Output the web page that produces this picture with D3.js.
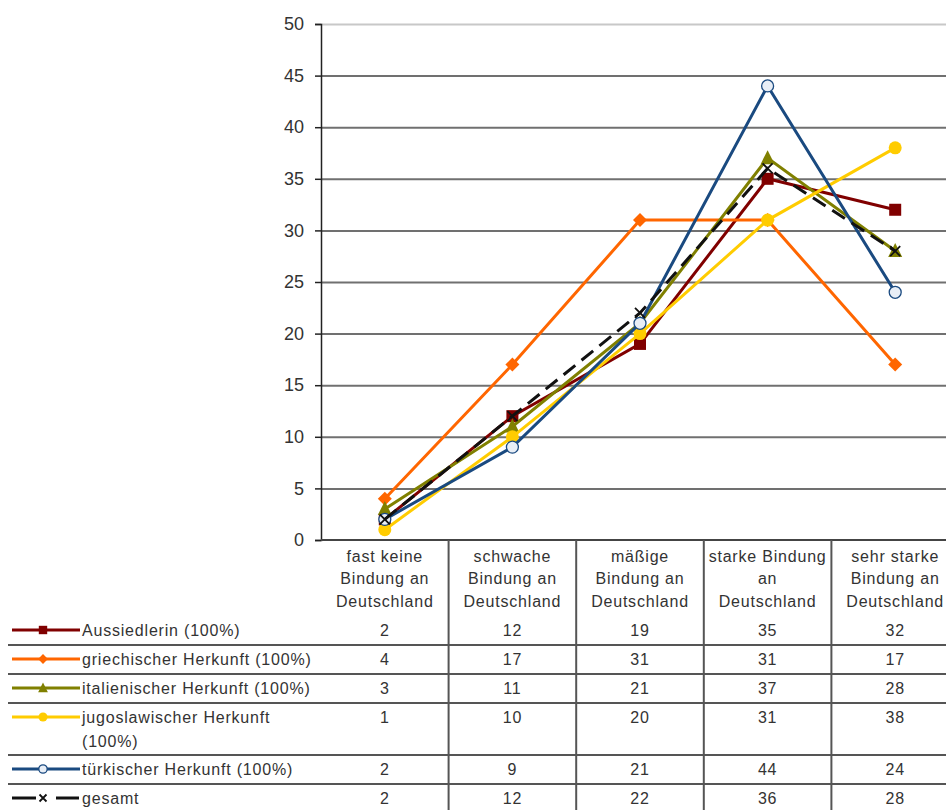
<!DOCTYPE html>
<html>
<head>
<meta charset="utf-8">
<script src="https://cdn.jsdelivr.net/npm/d3@7"></script>
<style>
  body { margin: 0; background: #fff; }
  svg text { font-family: "Liberation Sans", Arial, sans-serif; fill: #333; }
  .tbl { letter-spacing: 0.8px; }
</style>
</head>
<body>
<svg id="chart" width="946" height="810"></svg>
<script>
// data
const categories = [
  ["fast keine", "Bindung an", "Deutschland"],
  ["schwache", "Bindung an", "Deutschland"],
  ["mäßige", "Bindung an", "Deutschland"],
  ["starke Bindung", "an", "Deutschland"],
  ["sehr starke", "Bindung an", "Deutschland"]
]
const seriesNames = [
  ["Aussiedlerin (100%)"],
  ["griechischer Herkunft (100%)"],
  ["italienischer Herkunft (100%)"],
  ["jugoslawischer Herkunft", "(100%)"],
  ["türkischer Herkunft (100%)"],
  ["gesamt"]
]
const aussiedlerin = [2, 12, 19, 35, 32]
const griechisch = [4, 17, 31, 31, 17]
const italienisch = [3, 11, 21, 37, 28]
const jugoslawisch = [1, 10, 20, 31, 38]
const tuerkisch = [2, 9, 21, 44, 24]
const gesamt = [2, 12, 22, 36, 28]
const yTicks = [0, 5, 10, 15, 20, 25, 30, 35, 40, 45, 50]

const series = [
  { name: seriesNames[0], values: aussiedlerin, color: '#800000', marker: 'square' },
  { name: seriesNames[1], values: griechisch, color: '#ff6600', marker: 'diamond' },
  { name: seriesNames[2], values: italienisch, color: '#808000', marker: 'triangle' },
  { name: seriesNames[3], values: jugoslawisch, color: '#ffcc00', marker: 'circle' },
  { name: seriesNames[4], values: tuerkisch, color: '#1a4a80', marker: 'open' },
  { name: seriesNames[5], values: gesamt, color: '#111', marker: 'x', dash: '15,8' }
]

const svg = d3.select('#chart')
const plotLeft = 321, colW = 127.6, plotTop = 24, plotBottom = 540

const x = d3.scaleBand()
  .domain(categories.map((d, i) => i))
  .range([plotLeft, plotLeft + colW * categories.length])
const y = d3.scaleLinear().domain([0, 50]).range([plotBottom, plotTop])

// gridlines
svg.append('g')
  .attr('transform', `translate(${plotLeft},0)`)
  .call(d3.axisLeft(y).tickValues(yTicks.slice(1)).tickSize(-(946 - plotLeft)).tickFormat(''))
  .call(g => g.select('.domain').remove())
  .call(g => g.selectAll('line').attr('stroke', d => d === 50 ? '#c8c8c8' : '#707070').attr('stroke-width', 2))

// y axis
svg.append('g')
  .attr('transform', `translate(${plotLeft},0)`)
  .call(d3.axisLeft(y).tickValues(yTicks).tickSize(6).tickPadding(11))
  .call(g => g.select('.domain').attr('stroke', '#222').attr('stroke-width', 1.5))
  .call(g => g.selectAll('line').attr('stroke', '#222').attr('stroke-width', 1.5))
  .call(g => g.selectAll('text').attr('font-size', 18).style('fill', '#333'))

// x axis baseline
svg.append('line')
  .attr('x1', plotLeft).attr('x2', 946).attr('y1', y(0)).attr('y2', y(0))
  .attr('stroke', '#444').attr('stroke-width', 2)

// table
const headerLineH = 22.5
const rowTop0 = 616
const rowH = n => 29 + (n - 1) * 23
let rowTops = []
let acc = rowTop0
series.forEach(s => { rowTops.push(acc); acc += rowH(s.name.length) })

// vertical dividers
categories.forEach((c, i) => {
  if (i === 0) return
  svg.append('line')
    .attr('x1', x(i)).attr('x2', x(i)).attr('y1', y(0)).attr('y2', 810)
    .attr('stroke', '#555').attr('stroke-width', 2)
})
// horizontal row lines
rowTops.forEach((t, i) => {
  if (i === 0) return
  svg.append('line')
    .attr('x1', 8).attr('x2', 946).attr('y1', t).attr('y2', t)
    .attr('stroke', '#555').attr('stroke-width', 2)
})

// category headers
categories.forEach((lines, i) => {
  lines.forEach((l, j) => {
    svg.append('text')
      .attr('class', 'tbl')
      .attr('x', x(i) + x.bandwidth() / 2)
      .attr('y', 556 + j * headerLineH)
      .attr('dy', '0.35em')
      .attr('text-anchor', 'middle')
      .attr('font-size', 16)
      .text(l)
  })
})

// line + markers
const line = d3.line().x((d, i) => x(i) + x.bandwidth() / 2).y(d => y(d))

function drawMarker(g, type, color, cx, cy, k = 1) {
  if (type === 'square') {
    g.append('rect').attr('x', cx - 6 * k).attr('y', cy - 6 * k).attr('width', 12 * k).attr('height', 12 * k).attr('fill', color)
  } else if (type === 'diamond') {
    g.append('path').attr('d', `M${cx},${cy - 7 * k}L${cx + 7 * k},${cy}L${cx},${cy + 7 * k}L${cx - 7 * k},${cy}Z`).attr('fill', color)
  } else if (type === 'triangle') {
    g.append('path').attr('d', `M${cx},${cy - 8 * k}L${cx + 7 * k},${cy + 6 * k}L${cx - 7 * k},${cy + 6 * k}Z`).attr('fill', color)
  } else if (type === 'circle') {
    g.append('circle').attr('cx', cx).attr('cy', cy).attr('r', 6.5 * k).attr('fill', color)
  } else if (type === 'open') {
    g.append('circle').attr('cx', cx).attr('cy', cy).attr('r', 6 * k).attr('fill', '#e8eef6').attr('stroke', color).attr('stroke-width', 1.3)
  } else if (type === 'x') {
    g.append('path').attr('d', `M${cx - 5 * k},${cy - 5 * k}L${cx + 5 * k},${cy + 5 * k}M${cx - 5 * k},${cy + 5 * k}L${cx + 5 * k},${cy - 5 * k}`)
      .attr('stroke', color).attr('stroke-width', 1.8)
  }
}

series.forEach(s => {
  const g = svg.append('g')
  g.append('path')
    .datum(s.values)
    .attr('d', line)
    .attr('fill', 'none')
    .attr('stroke', s.color)
    .attr('stroke-width', 3)
    .attr('stroke-dasharray', s.dash || null)
  s.values.forEach((v, i) => drawMarker(g, s.marker, s.color, x(i) + x.bandwidth() / 2, y(v)))
})

// rows: legend keys, names, values
series.forEach((s, r) => {
  const t = rowTops[r]
  const cy = t + 14
  const g = svg.append('g')
  if (s.dash) {
    g.append('line').attr('x1', 12).attr('x2', 36).attr('y1', cy).attr('y2', cy).attr('stroke', s.color).attr('stroke-width', 3)
    g.append('line').attr('x1', 56).attr('x2', 79).attr('y1', cy).attr('y2', cy).attr('stroke', s.color).attr('stroke-width', 3)
  } else {
    g.append('line').attr('x1', 12).attr('x2', 80).attr('y1', cy).attr('y2', cy).attr('stroke', s.color).attr('stroke-width', 3)
  }
  drawMarker(g, s.marker, s.color, 43, cy, 0.7)
  s.name.forEach((l, j) => {
    svg.append('text')
      .attr('class', 'tbl')
      .attr('x', 82).attr('y', cy + j * 24).attr('dy', '0.35em')
      .attr('font-size', 16)
      .text(l)
  })
  s.values.forEach((v, i) => {
    svg.append('text')
      .attr('class', 'tbl')
      .attr('x', x(i) + x.bandwidth() / 2).attr('y', cy).attr('dy', '0.35em')
      .attr('text-anchor', 'middle')
      .attr('font-size', 16)
      .text(v)
  })
})
</script>
</body>
</html>
